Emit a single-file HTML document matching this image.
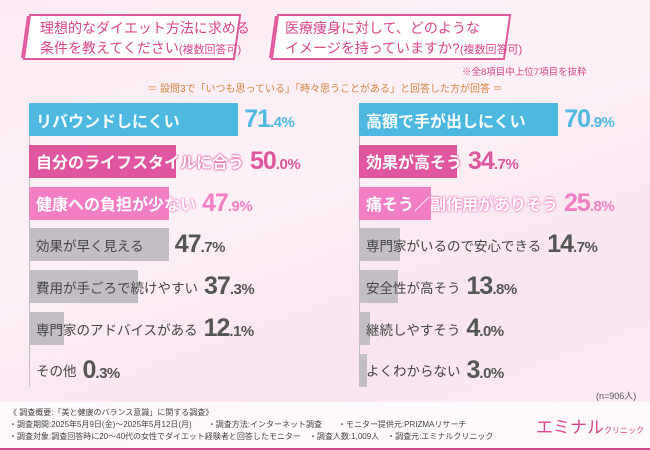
<!DOCTYPE html>
<html><head><meta charset="utf-8">
<style>
*{margin:0;padding:0;box-sizing:border-box}
body{width:650px;height:450px;overflow:hidden;font-family:"Liberation Sans","Noto Sans CJK JP",sans-serif;background:linear-gradient(160deg,#fbeaf3 0%,#fdf1f7 40%,#f9e4ef 70%,#fcedf5 100%);position:relative}
.tbox{position:absolute;top:14px;height:46px;border:2px solid #e0569c;background:#fff;transform:skewX(-8deg);box-shadow:-4px 0 0 -2px #e0569c}
.ttext{position:absolute;top:18px;color:#d8468a;font-size:14px;line-height:20px;white-space:nowrap}
.row{position:absolute;height:33px}
.bar{position:absolute;left:0;top:0;height:33px}
.cont{position:absolute;left:7px;top:0;height:33px;display:flex;align-items:center;white-space:nowrap}
.lab{font-size:13.5px;color:#444}
.lab.big{font-size:16px;font-weight:bold;color:#fff}
.val{font-family:"Liberation Sans Narrow","Liberation Sans",sans-serif;font-size:25px;font-weight:bold;margin-left:6px;letter-spacing:-1px}
.val small{font-size:15px;letter-spacing:-0.5px}
.axis{position:absolute;width:1px;background:#bbb}
.foot{position:absolute;left:0;top:402px;width:650px;height:48px;background:rgba(255,255,255,0.75);border-bottom:2px solid #c9478a}
</style></head><body>
<div class="tbox" style="left:26px;width:212px"></div>
<div class="ttext" style="left:40px">理想的なダイエット方法に求める<br>条件を教えてください<span style="font-size:11px">(複数回答可)</span></div>
<div class="tbox" style="left:274px;width:234px"></div>
<div class="ttext" style="left:285px">医療痩身に対して、どのような<br>イメージを持っていますか?<span style="font-size:11px">(複数回答可)</span></div>
<div style="position:absolute;left:462px;top:64px;font-size:9.5px;color:#d8468a">※全8項目中上位7項目を抜粋</div>
<div style="position:absolute;left:0;width:650px;text-align:center;top:80px;font-size:10px;color:#d4843c">＝ 設問3で「いつも思っている」「時々思うことがある」と回答した方が回答 ＝</div>
<div id="chart"></div>
<div style="position:absolute;left:596px;top:389px;font-size:9px;color:#555">(n=906人)</div>
<div class="foot"></div>
<div style="position:absolute;left:9px;top:407px;font-size:8px;line-height:12px;color:#444;white-space:nowrap">《 調査概要:「美と健康のバランス意識」に関する調査》<br>・調査期間:2025年5月9日(金)～2025年5月12日(月)　　・調査方法:インターネット調査　　・モニター提供元:PRIZMAリサーチ<br>・調査対象:調査回答時に20～40代の女性でダイエット経験者と回答したモニター　・調査人数:1,009人　・調査元:エミナルクリニック</div>
<div style="position:absolute;left:536px;top:413px;color:#d8468a;font-size:17px;white-space:nowrap">エミナル<span style="font-size:8px">クリニック</span></div>
<script>
const leftLabels=["リバウンドしにくい","自分のライフスタイルに合う","健康への負担が少ない","効果が早く見える","費用が手ごろで続けやすい","専門家のアドバイスがある","その他"];
const leftValues=[71.4,50.0,47.9,47.7,37.3,12.1,0.3];
const rightLabels=["高額で手が出しにくい","効果が高そう","痛そう／副作用がありそう","専門家がいるので安心できる","安全性が高そう","継続しやすそう","よくわからない"];
const rightValues=[70.9,34.7,25.8,14.7,13.8,4.0,3.0];
const barColors=["#4db9e1","#e0569f","#f27fc4","#c3bec5","#c3bec5","#c3bec5","#c3bec5"];
const valColors=["#4db9e1","#e0569f","#f27fc4","#555","#555","#555","#555"];
const chart=document.getElementById('chart');
function rowY(i){return 103+i*41.8;}
function draw(labels,values,x0,scale,side){
  const ax=document.createElement('div');ax.className='axis';
  
  
  ax.style.left=x0+'px';ax.style.top='103px';ax.style.height=(rowY(6)+33-103)+'px';chart.appendChild(ax);
  labels.forEach((l,i)=>{
    const r=document.createElement('div');r.className='row';
    
    
    r.style.left=x0+'px';r.style.top=rowY(i)+'px';r.style.width='300px';
    const w=values[i]*scale;
    const b=document.createElement('div');b.className='bar';
    
    
    b.style.width=w+'px';b.style.background=barColors[i];r.appendChild(b);
    const c=document.createElement('div');c.className='cont';
    const lb=document.createElement('span');lb.className='lab'+(i<3?' big':'');
    
    
    lb.textContent=l;lb.style.minWidth=Math.max(0,w-7)+'px';
    if(i<3){lb.style.textShadow='0 0 2px '+barColors[i]+',0 0 2px '+barColors[i]+',0 0 1px '+barColors[i];}
    const v=document.createElement('span');v.className='val';
    
    
    const s=values[i].toFixed(1).split('.');
    v.innerHTML=s[0]+'<small>.'+s[1]+'%</small>';v.style.color=valColors[i];
    c.appendChild(lb);c.appendChild(v);r.appendChild(c);chart.appendChild(r);
  });
}
draw(leftLabels,leftValues,29,2.93,'left');
draw(rightLabels,rightValues,359,2.81,'right');
</script>
</body></html>
